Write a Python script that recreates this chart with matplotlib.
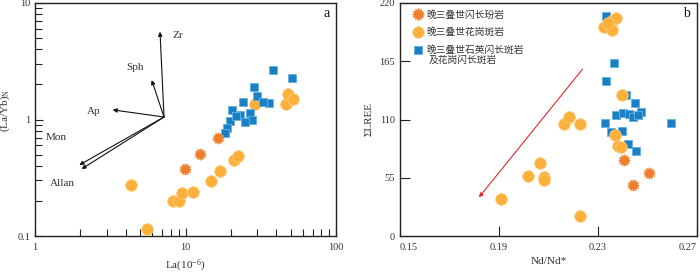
import matplotlib
matplotlib.use("Agg")
import matplotlib.pyplot as plt
from matplotlib.path import Path
from matplotlib.lines import Line2D
import matplotlib.ticker as mticker
import numpy as np

plt.rcParams['font.family'] = ['Liberation Serif', 'DejaVu Serif']
plt.rcParams['mathtext.fontset'] = 'custom'
plt.rcParams['mathtext.rm'] = 'Liberation Serif'
plt.rcParams['mathtext.it'] = 'Liberation Serif:italic'

# ---------- Panel a data ----------
a_sq_la = [38.3, 51.2, 28.7, 24.2, 29.7, 36.0, 32.9, 20.3, 23.0, 26.8, 27.5, 24.9, 19.8, 18.8, 18.3, 21.6]
a_sq_r = [2.66, 2.26, 1.89, 1.42, 1.59, 1.38, 1.42, 1.21, 1.09, 1.13, 0.99, 0.96, 0.98, 0.84, 0.76, 1.07]
a_ci_la = [4.34, 5.52, 8.22, 9.09, 9.43, 11.2, 14.8, 16.9, 21.1, 22.2, 28.9, 46.5, 48.2, 51.5]
a_ci_r = [0.272, 0.114, 0.200, 0.200, 0.235, 0.240, 0.297, 0.361, 0.449, 0.486, 1.35, 1.36, 1.65, 1.49]
a_st_la = [9.93, 12.5, 16.4]
a_st_r = [0.374, 0.502, 0.690]

vec_origin = (7.2, 1.05)
vec_names = ['Zr', 'Sph', 'Ap', 'Mon', 'Allan']
vec_tip_x = [6.77, 5.96, 3.28, 1.97, 2.04]
vec_tip_y = [5.67, 2.18, 1.21, 0.407, 0.376]
vec_lab_x = [8.92, 4.62, 2.47, 1.38, 1.53]
vec_lab_y = [5.31, 2.77, 1.18, 0.694, 0.285]

# ---------- Panel b data ----------
b_ci_x = [0.2323, 0.2361, 0.2374, 0.2358, 0.2340, 0.2398, 0.2370, 0.2381, 0.2394,
          0.2163, 0.2183, 0.2226, 0.2064, 0.2017, 0.2082, 0.2082, 0.1907, 0.2229]
b_ci_y = [197.6, 204.0, 205.5, 194.5, 200.8, 133.1, 95.4, 85.0, 84.3,
          105.8, 112.0, 105.8, 68.6, 56.7, 56.0, 52.9, 34.7, 18.9]
b_sq_x = [0.2334, 0.2365, 0.2334, 0.2415, 0.2451, 0.2475, 0.2374, 0.2401, 0.2425,
          0.2441, 0.2462, 0.2327, 0.2594, 0.2354, 0.2398, 0.2421, 0.2452]
b_sq_y = [207.7, 163.0, 146.4, 133.1, 125.3, 116.8, 114.3, 115.9, 115.2,
          112.1, 114.3, 107.0, 106.4, 98.5, 99.4, 86.9, 80.3]
b_st_x = [0.2404, 0.2506, 0.2441]
b_st_y = [71.8, 59.2, 48.2]
trend_start = (0.2237, 157.4)
trend_end = (0.1819, 36.5)

labels = ['晚三叠世闪长玢岩', '晚三叠世花岗斑岩', '晚三叠世石英闪长斑岩', '及花岗闪长斑岩']

# ---------- styles ----------
c_orange = '#FBB03B'
c_orange_e = '#FDCB78'
c_star = '#EF7E2C'
c_blue = '#1A80C3'
c_blue_e = '#62B2E2'
txt_col = '#333333'
star_marker = Path.unit_regular_star(12, innerCircle=0.72)

fig = plt.figure(figsize=(7.0, 2.74), dpi=100)
axa = fig.add_axes([35/700, 38/274, 301/700, 233/274])
axb = fig.add_axes([400/700, 38/274, 297/700, 233/274])

for ax in (axa, axb):
    for sp in ax.spines.values():
        sp.set_color('#222222')
        sp.set_linewidth(1.0)
    ax.tick_params(which='both', direction='in', top=False, right=False,
                   colors='#222222', labelcolor=txt_col, labelsize=7.5, width=0.8)

# ---- panel a ----
axa.set_xscale('log')
axa.set_yscale('log')
axa.set_xlim(1, 100)
axa.set_ylim(0.1, 10)
axa.xaxis.set_major_locator(mticker.FixedLocator([1, 10, 100]))
axa.xaxis.set_major_formatter(mticker.FixedFormatter(['1', '10', '100']))
axa.yaxis.set_major_locator(mticker.FixedLocator([0.1, 1, 10]))
axa.yaxis.set_major_formatter(mticker.FixedFormatter(['0.1', '1', '10']))
axa.xaxis.set_minor_locator(mticker.LogLocator(base=10, subs=np.arange(2, 10)))
axa.yaxis.set_minor_locator(mticker.LogLocator(base=10, subs=np.arange(2, 10)))
axa.xaxis.set_minor_formatter(mticker.NullFormatter())
axa.yaxis.set_minor_formatter(mticker.NullFormatter())
axa.tick_params(which='major', length=6)
axa.tick_params(which='minor', length=5)
axa.tick_params(axis='x', pad=5)

axa.scatter(a_ci_la, a_ci_r, s=70, marker='o', color=c_orange, edgecolor=c_orange_e, linewidth=0.6, zorder=3)
axa.scatter(a_sq_la, a_sq_r, s=36, marker='s', color=c_blue, edgecolor=c_blue_e, linewidth=0.6, zorder=4)
axa.scatter(a_st_la, a_st_r, s=75, marker=star_marker, color=c_star, edgecolor='#F39A5A', linewidth=0.4, zorder=4)

for name, tx, ty, lx, ly in zip(vec_names, vec_tip_x, vec_tip_y, vec_lab_x, vec_lab_y):
    axa.annotate('', xy=(tx, ty), xytext=vec_origin,
                 arrowprops=dict(arrowstyle='-|>', color='#111111', lw=0.8,
                                 mutation_scale=6, shrinkA=0, shrinkB=0))
    axa.text(lx, ly, name, fontsize=8, color=txt_col, ha='center', va='center')

axa.text(0.970, 0.955, 'a', transform=axa.transAxes, fontsize=10, ha='center', va='center', color='#111111')
axa.set_xlabel('La(10$^\\mathregular{-6}$)', fontsize=8, color=txt_col, labelpad=4)
axa.set_ylabel('(La/Yb)$_\\mathregular{N}$', fontsize=8, color=txt_col)
axa.yaxis.set_label_coords(-0.075, 0.54)

# ---- panel b ----
axb.set_xlim(0.15, 0.27)
axb.set_ylim(0, 220)
axb.set_xticks([0.15, 0.19, 0.23, 0.27])
axb.set_xticklabels(['0.15', '0.19', '0.23', '0.27'])
xtl = axb.get_xticklabels()
xtl[0].set_horizontalalignment('left')
xtl[-1].set_horizontalalignment('right')
axb.set_yticks([0, 55, 110, 165, 220])
axb.set_yticklabels(['0', '55', '110', '165', '220'])
axb.tick_params(which='major', length=7)
axb.tick_params(axis='x', pad=5)

axb.annotate('', xy=trend_end, xytext=trend_start,
             arrowprops=dict(arrowstyle='-|>', color='#E8262A', lw=0.8,
                             mutation_scale=6, shrinkA=0, shrinkB=0))
axb.scatter(b_ci_x, b_ci_y, s=70, marker='o', color=c_orange, edgecolor=c_orange_e, linewidth=0.6, zorder=3)
axb.scatter(b_sq_x, b_sq_y, s=36, marker='s', color=c_blue, edgecolor=c_blue_e, linewidth=0.6, zorder=2)
axb.scatter(b_st_x, b_st_y, s=75, marker=star_marker, color=c_star, edgecolor='#F39A5A', linewidth=0.4, zorder=4)

axb.text(0.966, 0.955, 'b', transform=axb.transAxes, fontsize=10, ha='center', va='center', color='#111111')
axb.set_xlabel('Nd/Nd*', fontsize=8, color=txt_col, labelpad=4)
axb.set_ylabel('ΣLREE', fontsize=8, color=txt_col, labelpad=4)

handles = [
    Line2D([], [], linestyle='none', marker=star_marker, markersize=9, color=c_star, markeredgecolor='#F39A5A', markeredgewidth=0.4),
    Line2D([], [], linestyle='none', marker='o', markersize=8.3, color=c_orange, markeredgecolor=c_orange_e, markeredgewidth=0.6),
    Line2D([], [], linestyle='none', marker='s', markersize=6, color=c_blue, markeredgecolor=c_blue_e, markeredgewidth=0.6),
]
leg = axb.legend(handles, labels[:3], loc='upper left', bbox_to_anchor=(0.038, 0.981),
                 frameon=False, prop={'family': ['Noto Sans CJK SC', 'DejaVu Sans'], 'size': 7},
                 handlelength=1.0, handletextpad=0.35, labelspacing=0.8, borderpad=0.2, borderaxespad=0)
for t in leg.get_texts():
    t.set_color(txt_col)
axb.text(0.098, 0.755, labels[3], transform=axb.transAxes, fontsize=7,
         family=['Noto Sans CJK SC', 'DejaVu Sans'], color=txt_col, ha='left', va='center')

fig.savefig('out.png', dpi=100)
